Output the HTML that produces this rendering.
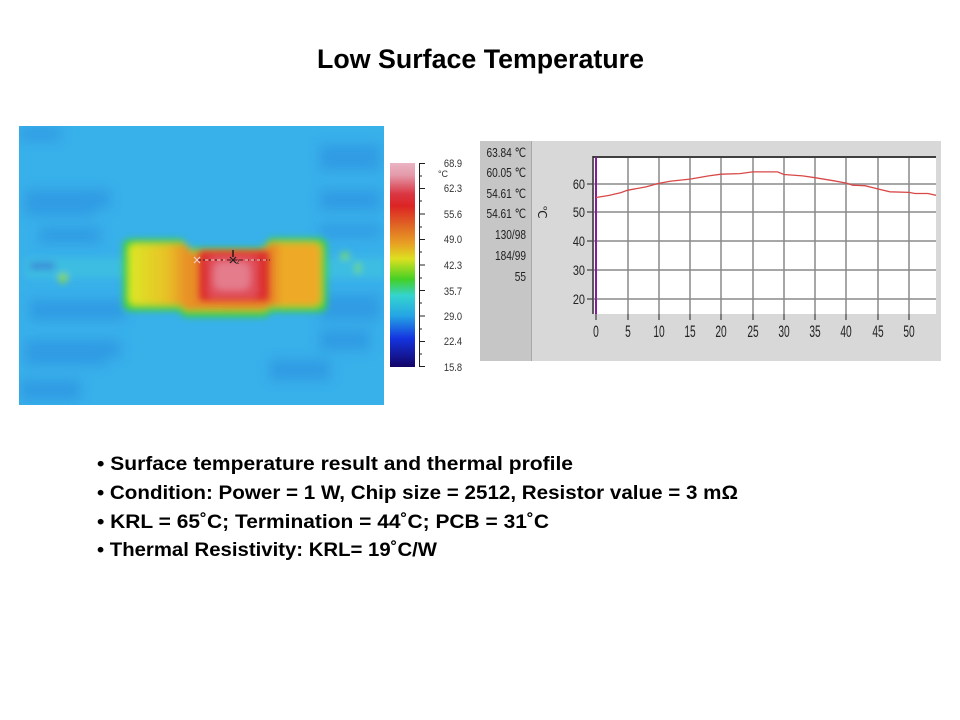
<!DOCTYPE html>
<html><head><meta charset="utf-8"><style>
html,body{margin:0;padding:0;background:#fff;}
svg{display:block;}
</style></head><body>
<svg width="960" height="720" viewBox="0 0 960 720" xmlns="http://www.w3.org/2000/svg">
<defs>
<filter id="b2" x="-20%" y="-20%" width="140%" height="140%"><feGaussianBlur stdDeviation="2.5"/></filter>
<filter id="b3" x="-20%" y="-20%" width="140%" height="140%"><feGaussianBlur stdDeviation="3.5"/></filter>
<filter id="b6" x="-30%" y="-30%" width="160%" height="160%"><feGaussianBlur stdDeviation="6"/></filter>
<linearGradient id="cb" x1="0" y1="0" x2="0" y2="1">
<stop offset="0" stop-color="#eab4c4"/>
<stop offset="0.06" stop-color="#e49aaa"/>
<stop offset="0.15" stop-color="#da3844"/>
<stop offset="0.21" stop-color="#dc2424"/>
<stop offset="0.31" stop-color="#e06824"/>
<stop offset="0.40" stop-color="#e8a424"/>
<stop offset="0.47" stop-color="#dce020"/>
<stop offset="0.57" stop-color="#44d024"/>
<stop offset="0.65" stop-color="#34d4d0"/>
<stop offset="0.75" stop-color="#24a4e4"/>
<stop offset="0.86" stop-color="#1434e0"/>
<stop offset="1" stop-color="#140466"/>
</linearGradient>
<linearGradient id="mid" x1="0" y1="0" x2="1" y2="0">
<stop offset="0" stop-color="#dce824"/>
<stop offset="0.2" stop-color="#e8c028"/>
<stop offset="0.3" stop-color="#e89028"/>
<stop offset="0.75" stop-color="#e88a28"/>
<stop offset="0.8" stop-color="#eeaa28"/>
<stop offset="1" stop-color="#eeaa28"/>
</linearGradient>
<clipPath id="img"><rect x="19" y="126" width="365" height="279"/></clipPath>
<clipPath id="plot"><rect x="594" y="157" width="342" height="157"/></clipPath>
</defs>

<!-- Title -->
<text x="480.5" y="68" text-anchor="middle" font-family="Liberation Sans, Arial, sans-serif" font-weight="bold" font-size="26.5" fill="#000" textLength="327" lengthAdjust="spacingAndGlyphs">Low Surface Temperature</text>

<!-- Thermal image -->
<g clip-path="url(#img)">
<rect x="19" y="126" width="365" height="279" fill="#38b0ea"/>
<g filter="url(#b6)" fill="#2f96e2" opacity="0.8">
<rect x="20" y="128" width="40" height="12"/>
<rect x="25" y="190" width="70" height="25"/>
<rect x="40" y="228" width="60" height="15"/>
<rect x="80" y="190" width="30" height="18"/>
<rect x="30" y="300" width="75" height="20"/>
<rect x="85" y="300" width="40" height="20"/>
<rect x="25" y="340" width="80" height="25"/>
<rect x="80" y="340" width="40" height="18"/>
<rect x="20" y="380" width="60" height="20"/>
<rect x="320" y="145" width="60" height="25"/>
<rect x="320" y="190" width="60" height="20"/>
<rect x="320" y="225" width="60" height="12"/>
<rect x="320" y="295" width="60" height="25"/>
<rect x="320" y="330" width="50" height="20"/>
<rect x="270" y="360" width="60" height="20"/>
</g>
<g filter="url(#b3)">
<rect x="25" y="258" width="360" height="20" fill="#3ec0e0" opacity="0.8"/>
<rect x="30" y="262" width="25" height="8" fill="#3b8fd8"/>
<ellipse cx="63" cy="278" rx="5" ry="5" fill="#88d840"/>
<ellipse cx="345" cy="256" rx="5" ry="4" fill="#70d870"/>
<ellipse cx="358" cy="268" rx="3" ry="6" fill="#70d870"/>
</g>
<g filter="url(#b3)">
<path d="M123,246 Q123,239 132,239 L182,239 L190,248 L262,248 L270,238 L318,238 Q327,238 327,247 L327,305 Q327,312 318,312 L272,312 L265,317 L185,317 L178,311 L131,311 Q123,311 123,302 Z" fill="#3cd238"/>
<path d="M129,250 Q129,244 136,244 L184,244 L192,252 L262,252 L270,243 L314,243 Q321,243 321,250 L321,299 Q321,306 313,306 L270,306 L264,310 L186,310 L180,305 L136,305 Q129,305 129,298 Z" fill="url(#mid)"/>
</g>
<g filter="url(#b3)">
<rect x="199" y="251" width="70" height="50" rx="3" fill="#dc2e2e"/>
<rect x="208" y="256" width="50" height="42" rx="6" fill="#e0505c"/>
<rect x="214" y="262" width="36" height="28" rx="8" fill="#e47c8c"/>
</g>
<line x1="197" y1="260" x2="270" y2="260" stroke="#702020" stroke-width="1.2" stroke-dasharray="4,2"/>
<line x1="205" y1="260" x2="225" y2="260" stroke="#f4d0c0" stroke-width="1" stroke-dasharray="3,3"/>
<line x1="245" y1="260" x2="268" y2="260" stroke="#f4d0c0" stroke-width="1" stroke-dasharray="3,3"/>
<path d="M194,257 l6,6 M200,257 l-6,6" stroke="#f6d0c8" stroke-width="1.2"/>
<path d="M230,257 l6,6 M236,257 l-6,6" stroke="#202020" stroke-width="1.2"/>
<line x1="233" y1="250" x2="233" y2="257" stroke="#101010" stroke-width="1.3"/>
<text x="236" y="264" font-family="Liberation Sans, sans-serif" font-size="6" fill="#202020">2</text>
</g>

<!-- Colorbar -->
<rect x="390" y="163" width="25" height="204" fill="url(#cb)"/>
<line x1="419.5" y1="163" x2="419.5" y2="367" stroke="#202020" stroke-width="1"/>
<g stroke="#202020" stroke-width="1">
<line x1="419" y1="163.5" x2="425" y2="163.5"/><line x1="419" y1="176" x2="422" y2="176"/>
<line x1="419" y1="188.5" x2="425" y2="188.5"/><line x1="419" y1="201" x2="422" y2="201"/>
<line x1="419" y1="214" x2="425" y2="214"/><line x1="419" y1="227" x2="422" y2="227"/>
<line x1="419" y1="239.5" x2="425" y2="239.5"/><line x1="419" y1="252" x2="422" y2="252"/>
<line x1="419" y1="265" x2="425" y2="265"/><line x1="419" y1="278" x2="422" y2="278"/>
<line x1="419" y1="290.5" x2="425" y2="290.5"/><line x1="419" y1="303" x2="422" y2="303"/>
<line x1="419" y1="316" x2="425" y2="316"/><line x1="419" y1="329" x2="422" y2="329"/>
<line x1="419" y1="341.5" x2="425" y2="341.5"/><line x1="419" y1="354" x2="422" y2="354"/>
<line x1="419" y1="366.5" x2="425" y2="366.5"/>
</g>
<g font-family="Liberation Sans, sans-serif" font-size="11" fill="#333" text-anchor="middle">
<text transform="translate(453,167) scale(0.85,1)">68.9</text>
<text transform="translate(453,192) scale(0.85,1)">62.3</text>
<text transform="translate(453,218) scale(0.85,1)">55.6</text>
<text transform="translate(453,243) scale(0.85,1)">49.0</text>
<text transform="translate(453,269) scale(0.85,1)">42.3</text>
<text transform="translate(453,295) scale(0.85,1)">35.7</text>
<text transform="translate(453,320) scale(0.85,1)">29.0</text>
<text transform="translate(453,345) scale(0.85,1)">22.4</text>
<text transform="translate(453,371) scale(0.85,1)">15.8</text>
<text x="443" y="177" font-size="9">°C</text>
</g>

<!-- Profile chart panel -->
<rect x="480" y="141" width="461" height="220" fill="#d8d8d8"/>
<rect x="480" y="141" width="51" height="220" fill="#c6c6c6"/>
<line x1="531.5" y1="141" x2="531.5" y2="361" stroke="#a8a8a8" stroke-width="1"/>
<g font-family="Liberation Sans, sans-serif" font-size="13" fill="#222" text-anchor="end">
<text transform="translate(526,157) scale(0.78,1)">63.84 ℃</text>
<text transform="translate(526,177) scale(0.78,1)">60.05 ℃</text>
<text transform="translate(526,198) scale(0.78,1)">54.61 ℃</text>
<text transform="translate(526,218) scale(0.78,1)">54.61 ℃</text>
<text transform="translate(526,239) scale(0.78,1)">130/98</text>
<text transform="translate(526,260) scale(0.78,1)">184/99</text>
<text transform="translate(526,281) scale(0.78,1)">55</text>
</g>
<text x="0" y="0" transform="translate(538,212) rotate(90)" font-family="Liberation Sans, sans-serif" font-size="12" fill="#222" text-anchor="middle">℃</text>

<rect x="594" y="157" width="342" height="157" fill="#ffffff"/>
<g stroke="#8a8a8a" stroke-width="1.5">
<line x1="628" y1="157" x2="628" y2="314"/><line x1="659" y1="157" x2="659" y2="314"/>
<line x1="690" y1="157" x2="690" y2="314"/><line x1="721" y1="157" x2="721" y2="314"/>
<line x1="753" y1="157" x2="753" y2="314"/><line x1="784" y1="157" x2="784" y2="314"/>
<line x1="815" y1="157" x2="815" y2="314"/><line x1="846" y1="157" x2="846" y2="314"/>
<line x1="878" y1="157" x2="878" y2="314"/><line x1="909" y1="157" x2="909" y2="314"/>
<line x1="594" y1="184" x2="936" y2="184"/><line x1="594" y1="212" x2="936" y2="212"/>
<line x1="594" y1="241" x2="936" y2="241"/><line x1="594" y1="270" x2="936" y2="270"/>
<line x1="594" y1="299" x2="936" y2="299"/>
</g>
<line x1="593" y1="157" x2="936" y2="157" stroke="#404040" stroke-width="2"/>
<line x1="593" y1="156" x2="593" y2="314" stroke="#303030" stroke-width="1.5"/>
<line x1="596" y1="157" x2="596" y2="314" stroke="#8a1aa0" stroke-width="2"/>
<g stroke="#404040" stroke-width="1.2">
<line x1="587" y1="184" x2="593" y2="184"/><line x1="587" y1="212" x2="593" y2="212"/>
<line x1="587" y1="241" x2="593" y2="241"/><line x1="587" y1="270" x2="593" y2="270"/>
<line x1="587" y1="299" x2="593" y2="299"/>
<line x1="596" y1="314" x2="596" y2="320"/><line x1="628" y1="314" x2="628" y2="320"/>
<line x1="659" y1="314" x2="659" y2="320"/><line x1="690" y1="314" x2="690" y2="320"/>
<line x1="721" y1="314" x2="721" y2="320"/><line x1="753" y1="314" x2="753" y2="320"/>
<line x1="784" y1="314" x2="784" y2="320"/><line x1="815" y1="314" x2="815" y2="320"/>
<line x1="846" y1="314" x2="846" y2="320"/><line x1="878" y1="314" x2="878" y2="320"/>
<line x1="909" y1="314" x2="909" y2="320"/>
</g>
<g clip-path="url(#plot)">
<polyline fill="none" stroke="#d84848" stroke-width="1.3" points="596,197.5 608.5,195.5 621,192.6 627.3,190.3 646,186.9 658.6,183.4 671,181.1 690,179.1 708.7,175.9 721,174.2 740,173.6 752.5,171.9 777.5,171.9 784,174.5 802.6,175.9 815,177.7 834,180.8 846.4,183.1 852.7,185.2 865,185.7 877.7,188.9 890,191.8 909,192.4 915,193.5 928,193.5 937,195.5"/>
</g>
<g font-family="Liberation Sans, sans-serif" font-size="14" fill="#222" text-anchor="end">
<text transform="translate(585,189) scale(0.78,1)">60</text>
<text transform="translate(585,217) scale(0.78,1)">50</text>
<text transform="translate(585,246) scale(0.78,1)">40</text>
<text transform="translate(585,275) scale(0.78,1)">30</text>
<text transform="translate(585,304) scale(0.78,1)">20</text>
</g>
<g font-family="Liberation Sans, sans-serif" font-size="17" fill="#222" text-anchor="middle">
<text transform="translate(596,337) scale(0.6,1)">0</text>
<text transform="translate(628,337) scale(0.6,1)">5</text>
<text transform="translate(659,337) scale(0.6,1)">10</text>
<text transform="translate(690,337) scale(0.6,1)">15</text>
<text transform="translate(721,337) scale(0.6,1)">20</text>
<text transform="translate(753,337) scale(0.6,1)">25</text>
<text transform="translate(784,337) scale(0.6,1)">30</text>
<text transform="translate(815,337) scale(0.6,1)">35</text>
<text transform="translate(846,337) scale(0.6,1)">40</text>
<text transform="translate(878,337) scale(0.6,1)">45</text>
<text transform="translate(909,337) scale(0.6,1)">50</text>
</g>

<!-- Bullets -->
<g font-family="Liberation Sans, Arial, sans-serif" font-weight="bold" font-size="19.5" fill="#000">
<text x="97" y="470" textLength="476" lengthAdjust="spacingAndGlyphs">• Surface temperature result and thermal profile</text>
<text x="97" y="499" textLength="641" lengthAdjust="spacingAndGlyphs">• Condition: Power = 1 W, Chip size = 2512, Resistor value = 3 mΩ</text>
<text x="97" y="528" textLength="452" lengthAdjust="spacingAndGlyphs">• KRL = 65˚C; Termination = 44˚C; PCB = 31˚C</text>
<text x="97" y="556" textLength="340" lengthAdjust="spacingAndGlyphs">• Thermal Resistivity: KRL= 19˚C/W</text>
</g>
</svg>
</body></html>
